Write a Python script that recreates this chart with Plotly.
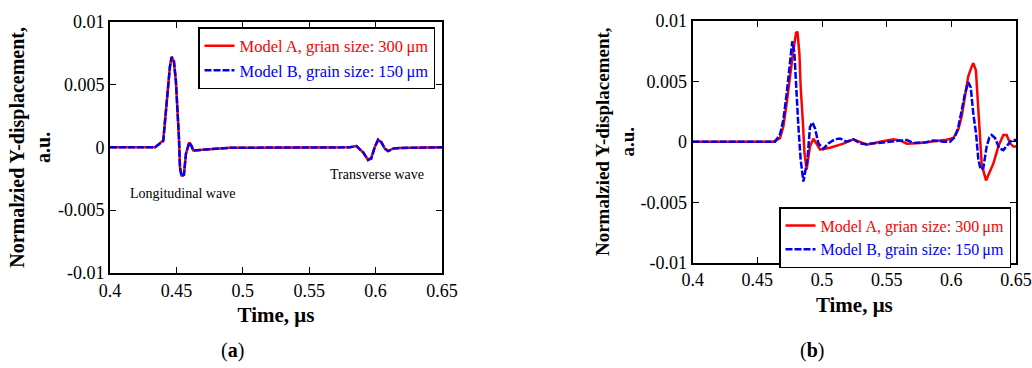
import plotly.graph_objects as go

# ---------------- data ----------------
# Panel (a): both models nearly identical
a_time = [0.40, 0.4339, 0.4401, 0.4419, 0.4434, 0.4451, 0.4464, 0.4481, 0.4496, 0.4509, 0.4519,
          0.4527, 0.4539, 0.4557, 0.4572, 0.4597, 0.4614, 0.4627, 0.4777, 0.4903, 0.5805, 0.5856,
          0.5906, 0.5943, 0.5968, 0.5993, 0.6019, 0.6044, 0.6069, 0.6094, 0.6131, 0.6182, 0.65]
a_model_a = [0, 0, 0.00055, 0.0029, 0.0047, 0.0064, 0.0072, 0.0068, 0.0053, 0.0031, 0.0008,
             -0.0016, -0.0023, -0.0021, -0.0005, 0.0004, 0.0001, -0.00025, -0.00015, -0.00003, 0, 0.0001,
             -0.0004, -0.001, -0.0008, 0.0, 0.0006, 0.0004, -0.0001, -0.0003, -0.0001, -0.00005, 0]
a_model_b = [0, 0, 0.0005, 0.0028, 0.0047, 0.0064, 0.0072, 0.0069, 0.0053, 0.0031, 0.0008,
             -0.0016, -0.0023, -0.0022, -0.0005, 0.0004, 0.0001, -0.00025, -0.00015, -0.00003, 0, 0.0001,
             -0.0004, -0.001, -0.0009, 0.0, 0.0006, 0.0004, -0.0001, -0.0003, -0.0001, -0.00005, 0]

# Panel (b)
b_time_a = [0.40, 0.4624, 0.4675, 0.4701, 0.4727, 0.4752, 0.4778, 0.4799, 0.4810, 0.4825, 0.4835,
            0.4851, 0.4864, 0.4881, 0.4907, 0.4933, 0.4959, 0.4985, 0.5062, 0.5165, 0.5243, 0.5294,
            0.5346, 0.5449, 0.5552, 0.5603, 0.5655, 0.5758, 0.5861, 0.5964, 0.6015, 0.6054, 0.6080,
            0.6105, 0.6131, 0.6157, 0.6170, 0.6190, 0.6203, 0.6216, 0.6235, 0.6268, 0.6325, 0.6363,
            0.6402, 0.6428, 0.6454, 0.6480, 0.65]
b_model_a = [0, 0, 0.0003, 0.00126, 0.0032, 0.0054, 0.0075, 0.0090, 0.0091, 0.0073, 0.0045,
             0.0018, -0.0009, -0.0023, -0.0004, 0.00025, -0.00025, -0.00066, -0.0005, -0.00016, 0.0002, -0.00005,
             -0.00025, 0, 0.0002, 0.0001, -0.00016, -0.0001, 0.00003, 0.00016, 0.0003, 0.001, 0.0021,
             0.0037, 0.0054, 0.0062, 0.0065, 0.0059, 0.0037, 0.0013, -0.0019, -0.0032, -0.0018, -0.0004,
             0.00055, 0.00055, -0.00014, -0.0004, -0.0004]

b_time_b = [0.40, 0.4637, 0.4675, 0.4701, 0.4727, 0.4752, 0.4770, 0.4786, 0.4804, 0.4817, 0.4835,
            0.4856, 0.4887, 0.4907, 0.4925, 0.4946, 0.4972, 0.5010, 0.5049, 0.5100, 0.5139, 0.5190,
            0.5242, 0.5294, 0.5345, 0.5448, 0.5552, 0.5655, 0.5706, 0.5809, 0.5861, 0.5938, 0.5990,
            0.6028, 0.6054, 0.6080, 0.6106, 0.6131, 0.6150, 0.6170, 0.6191, 0.6209, 0.6227, 0.6247,
            0.6273, 0.6294, 0.6312, 0.6338, 0.6371, 0.6402, 0.6441, 0.6467, 0.65]
b_model_b = [0, 0, 0.0006, 0.0018, 0.0040, 0.0067, 0.0083, 0.0074, 0.0034, 0.0013, -0.0015,
             -0.0033, -0.0015, 0.0012, 0.0016, 0.0011, -0.00014, -0.0006, -0.00014, 0.0002, 0.00027, 0,
             0.0002, -0.00014, -0.0002, -0.0001, 0, 0.00014, -0.0001, -0.00005, 0.0001, 0, 0,
             0.0004, 0.0012, 0.0026, 0.0040, 0.0049, 0.0045, 0.0023, 0.0007, -0.0015, -0.0023, -0.0022,
             -0.0004, 0.00036, 0.00055, 0.0003, -0.00055, -0.0007, -0.00014, 0.00014, 0.00014]

name_a = "Model A, grian size: 300\u2009\u03bcm"
name_b = "Model B, grain size: 150\u2009\u03bcm"

x_ticks = [0.4, 0.45, 0.5, 0.55, 0.6, 0.65]
x_ticktext = ["0.4", "0.45", "0.5", "0.55", "0.6", "0.65"]
y_ticks = [-0.01, -0.005, 0, 0.005, 0.01]
y_ticktext = ["-0.01", "-0.005", "0", "0.005", "0.01"]

RED = "#ff0000"
BLUE = "#0000ee"
SERIF = "'Liberation Serif', 'Times New Roman', Times, serif"

fig = go.Figure()

# panel (a)
fig.add_trace(go.Scatter(x=a_time, y=a_model_a, mode="lines", line=dict(color=RED, width=2.5),
                         name=f"<span style='color:{RED}'>{name_a}</span>", xaxis="x", yaxis="y", legend="legend"))
fig.add_trace(go.Scatter(x=a_time, y=a_model_b, mode="lines", line=dict(color=BLUE, width=2.5, dash="7px,2px"),
                         name=f"<span style='color:{BLUE}'>{name_b}</span>", xaxis="x", yaxis="y", legend="legend"))
# panel (b)
fig.add_trace(go.Scatter(x=b_time_a, y=b_model_a, mode="lines", line=dict(color=RED, width=2.5),
                         name=f"<span style='color:{RED}'>{name_a}</span>", xaxis="x2", yaxis="y2", legend="legend2"))
fig.add_trace(go.Scatter(x=b_time_b, y=b_model_b, mode="lines", line=dict(color=BLUE, width=2.5, dash="7px,2px"),
                         name=f"<span style='color:{BLUE}'>{name_b}</span>", xaxis="x2", yaxis="y2", legend="legend2"))

axis_common = dict(showline=True, linecolor="black", linewidth=2, mirror="allticks",
                   ticks="inside", ticklen=6, tickwidth=1, tickcolor="black",
                   showgrid=False, zeroline=False, automargin=False,
                   tickfont=dict(family=SERIF, size=18, color="black"))

xtitle = dict(text="Time, \u03bcs", font=dict(family=SERIF, size=21, color="black", weight="bold"), standoff=8)
ytitle_text = "Normalzied Y-displacement,<br>a.u."

fig.update_layout(
    width=1032, height=368,
    margin=dict(l=0, r=0, t=0, b=0),
    paper_bgcolor="white", plot_bgcolor="white",
    xaxis=dict(domain=[110/1032, 442/1032], range=[0.4, 0.65], tickvals=x_ticks, ticktext=x_ticktext,
               anchor="y", title=xtitle, **axis_common),
    yaxis=dict(domain=[1-273/368, 1-21.7/368], range=[-0.01, 0.01], tickvals=y_ticks, ticktext=y_ticktext,
               anchor="x", title=dict(text=ytitle_text, font=dict(family=SERIF, size=20, color="black", weight="bold"), standoff=2),
               **axis_common),
    xaxis2=dict(domain=[692.7/1032, 1016/1032], range=[0.4, 0.65], tickvals=x_ticks, ticktext=x_ticktext,
                anchor="y2", title=xtitle, **axis_common),
    yaxis2=dict(domain=[1-262.7/368, 1-20.7/368], range=[-0.01, 0.01], tickvals=y_ticks, ticktext=y_ticktext,
                anchor="x2", title=dict(text=ytitle_text, font=dict(family=SERIF, size=19, color="black", weight="bold"), standoff=1),
                **axis_common),
    legend=dict(x=435/1032, y=1-27/368, xanchor="right", yanchor="top", bgcolor="white",
                bordercolor="black", borderwidth=1.5, font=dict(family=SERIF, size=16.5),
                tracegroupgap=0, itemwidth=30),
    legend2=dict(x=1011/1032, y=1-207/368, xanchor="right", yanchor="top", bgcolor="white",
                 bordercolor="black", borderwidth=1.5, font=dict(family=SERIF, size=16),
                 tracegroupgap=0, itemwidth=30),
    showlegend=True,
)

fig.add_annotation(x=0.4546, y=-0.00365, xref="x", yref="y", text="Longitudinal wave", showarrow=False,
                   font=dict(family=SERIF, size=14, color="black"))
fig.add_annotation(x=0.601, y=-0.0022, xref="x", yref="y", text="Transverse wave", showarrow=False,
                   font=dict(family=SERIF, size=14, color="black"))
fig.add_annotation(x=232/1032, y=1-350/368, xref="paper", yref="paper", xanchor="center", yanchor="middle",
                   text="(<b>a</b>)", showarrow=False, font=dict(family=SERIF, size=20, color="black"))
fig.add_annotation(x=812/1032, y=1-350/368, xref="paper", yref="paper", xanchor="center", yanchor="middle",
                   text="(<b>b</b>)", showarrow=False, font=dict(family=SERIF, size=20, color="black"))

fig.write_html("out.html")
